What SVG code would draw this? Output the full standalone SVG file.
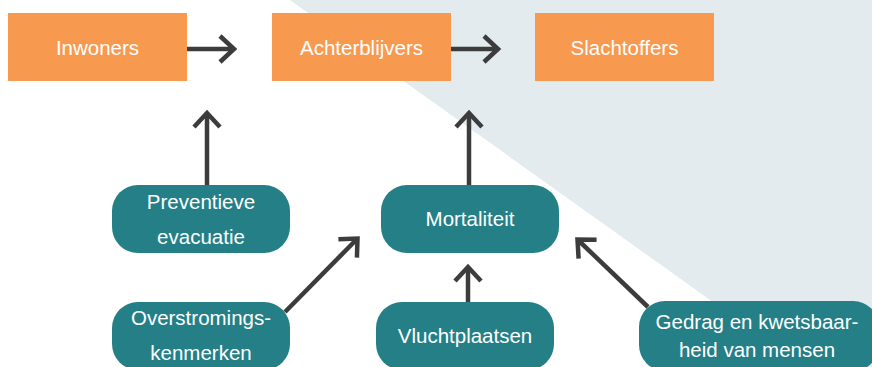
<svg xmlns="http://www.w3.org/2000/svg" width="872" height="367" viewBox="0 0 872 367">
<style>
.box{fill:#f7994f}
.node{fill:#247f87}
.t{font-family:"Liberation Sans",Arial,sans-serif;font-size:20.5px;fill:#ffffff;text-anchor:middle}
.c{fill:none;stroke:#3c3c3c;stroke-width:4.5;marker-end:url(#ah)}
</style>
<defs>
<marker id="ah" viewBox="-22 -18 28 36" markerWidth="28" markerHeight="36" refX="0" refY="0" orient="auto" markerUnits="userSpaceOnUse">
<path d="M-14,-13 L0,0 L-14,13" fill="none" stroke="#3c3c3c" stroke-width="4.5" stroke-linejoin="miter"/>
</marker>
</defs>
<rect width="872" height="367" fill="#ffffff"/>
<polygon points="290,0 872,0 872,367 804,367" fill="#e3ebee"/>
<g id="connectors">
<path class="c" d="M187,49 L234,49"/>
<path class="c" d="M451,49 L498,49"/>
<path class="c" d="M207,185 L207,113"/>
<path class="c" d="M469,185 L469,113"/>
<path class="c" d="M468,302 L468,267"/>
<path class="c" d="M285,312 L357.5,238.5"/>
<path class="c" d="M648,307 L577.5,239.5"/>
</g>
<g id="inwoners"><rect class="box" x="8" y="13" width="179" height="68"/><text class="t" x="97.5" y="55">Inwoners</text></g>
<g id="achterblijvers"><rect class="box" x="272" y="13" width="179" height="68"/><text class="t" x="361.5" y="55">Achterblijvers</text></g>
<g id="slachtoffers"><rect class="box" x="535" y="13" width="179" height="68"/><text class="t" x="624.5" y="55">Slachtoffers</text></g>
<g id="preventieve"><rect class="node" x="112" y="185" width="178" height="68" rx="26"/><text class="t" x="201" y="209">Preventieve</text><text class="t" x="201" y="244">evacuatie</text></g>
<g id="mortaliteit"><rect class="node" x="381" y="185" width="178" height="68" rx="26"/><text class="t" x="470" y="226">Mortaliteit</text></g>
<g id="overstromings"><rect class="node" x="112" y="302" width="178" height="68" rx="26"/><text class="t" x="201" y="325">Overstromings-</text><text class="t" x="201" y="360">kenmerken</text></g>
<g id="vluchtplaatsen"><rect class="node" x="376" y="302" width="178" height="68" rx="26"/><text class="t" x="465" y="343">Vluchtplaatsen</text></g>
<g id="gedrag"><rect class="node" x="639" y="301" width="240" height="70" rx="26"/><text class="t" x="757" y="329">Gedrag en kwetsbaar-</text><text class="t" x="757" y="357">heid van mensen</text></g>
</svg>
